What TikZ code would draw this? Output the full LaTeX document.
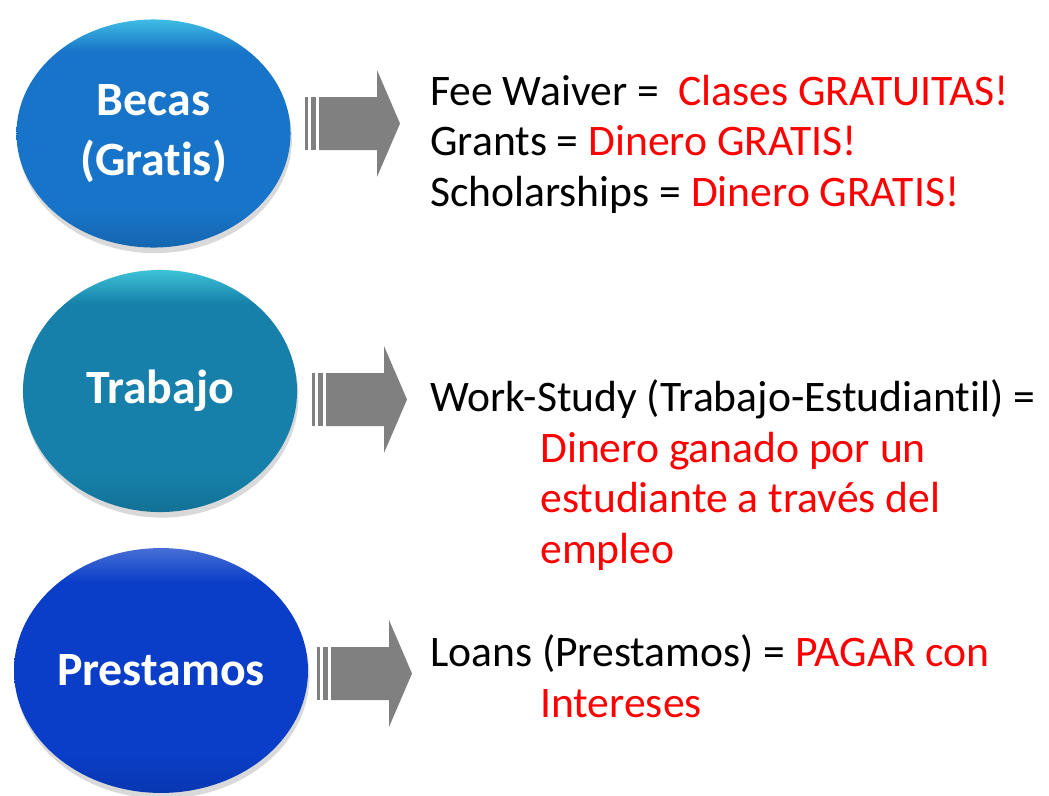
\documentclass[tikz,border=0pt]{standalone}
\usepackage{fontspec}
\setmainfont{Carlito}[Ligatures=NoCommon]
\usetikzlibrary{shapes.geometric,shadows}
\definecolor{becasblue}{RGB}{24,116,200}
\definecolor{trabajoblue}{RGB}{22,128,170}
\definecolor{prestblue}{RGB}{10,62,200}
\pgfdeclareverticalshading{becasshade}{100bp}{color(0bp)=(becasblue!88!black); color(25bp)=(becasblue!88!black); color(33bp)=(becasblue); color(68bp)=(becasblue); color(75bp)=(becasblue!60!cyan!80!white); color(100bp)=(becasblue!60!cyan!80!white)}
\pgfdeclareverticalshading{trabajoshade}{100bp}{color(0bp)=(trabajoblue!88!black); color(25bp)=(trabajoblue!88!black); color(33bp)=(trabajoblue); color(68bp)=(trabajoblue); color(75bp)=(trabajoblue!60!cyan!80!white); color(100bp)=(trabajoblue!60!cyan!80!white)}
\pgfdeclareverticalshading{prestshade}{100bp}{color(0bp)=(prestblue!88!black); color(25bp)=(prestblue!88!black); color(33bp)=(prestblue); color(68bp)=(prestblue); color(75bp)=(prestblue!75!white); color(100bp)=(prestblue!75!white)}
\tikzset{
  bubble/.style={ellipse, inner sep=0pt, align=center, text=white, font=\bfseries\fontsize{34}{42.7}\selectfont,
    drop shadow={opacity=0.3, shadow xshift=1pt, shadow yshift=-4pt}},
  desc/.style={anchor=base west, align=left, inner sep=0pt, font=\fontsize{31}{35.9}\selectfont},
  arrowgray/.style={fill=black!50}
}

\begin{document}
\begin{tikzpicture}[x=0.025cm, y=-0.025cm]
\useasboundingbox (0,0) rectangle (1049,795);
% circles
\node[bubble, minimum width=6.85cm, minimum height=5.7cm, shading=becasshade] (becas) at (153.5,133.5) {Becas\\(Gratis)};
\node[bubble, minimum width=6.85cm, minimum height=6.05cm, shading=trabajoshade] (trabajo) at (160,391) {Trabajo};
\node[bubble, minimum width=7.2cm, minimum height=6.12cm, shading=prestshade] (prestamos) at (161,670.5) {Prestamos};
% striped block arrows
\foreach \s/\c in {305/123.5, 312/399.5, 317/673.5} {
  \fill[arrowgray] (\s,\c-26.5) rectangle ++(3,53);
  \fill[arrowgray] (\s+5.5,\c-26.5) rectangle ++(5,53);
  \fill[arrowgray] (\s+14,\c-26.5) -- ++(58,0) -- ++(0,-27) -- ++(23,53.5) -- ++(-23,53.5) -- ++(0,-27) -- ++(-58,0) -- cycle;
}
% texts (base = last line)
\node[desc] (becastxt) at (430,206) {Fee Waiver =~~\textcolor{red}{Clases GRATUITAS!}\\Grants = \textcolor{red}{Dinero GRATIS!}\\Scholarships = \textcolor{red}{Dinero GRATIS!}};
\node[desc] (trabajotxt) at (430,563) {Work-Study (Trabajo-Estudiantil) =\\\hspace*{2.75cm}\textcolor{red}{Dinero ganado por un}\\\hspace*{2.75cm}\textcolor{red}{estudiante a través del}\\\hspace*{2.75cm}\textcolor{red}{empleo}};
\node[desc] (prestamostxt) at (430,717) {Loans (Prestamos) = \textcolor{red}{PAGAR con}\\\hspace*{2.75cm}\textcolor{red}{Intereses}};
\end{tikzpicture}
\end{document}
